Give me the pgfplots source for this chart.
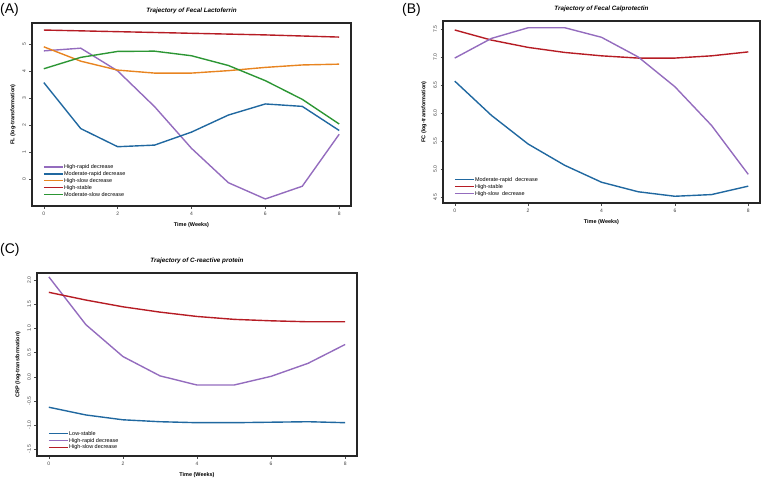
\documentclass[border=0pt]{standalone}
\usepackage{fontspec}
\setmainfont{Liberation Sans}
\usepackage{pgfplots}
\pgfplotsset{compat=1.18}

\definecolor{cpurple}{RGB}{148,108,190}
\definecolor{cblue}{RGB}{32,104,160}
\definecolor{corange}{RGB}{232,132,32}
\definecolor{cred}{RGB}{182,28,36}
\definecolor{cgreen}{RGB}{44,150,52}

\pgfplotsset{
  rstyle/.style={
    scale only axis,
    anchor=north west,
    axis line style={line width=1.2pt, black!85},
    tick align=outside,
    xtick pos=bottom, ytick pos=left,
    major tick length=2.5bp,
    tick style={black!70, line width=0.4pt},
    xmin=-0.32, xmax=8.32,
    xtick={0,2,4,6,8},
    no marks,
    ticklabel style={font=\fontsize{5}{6}\selectfont, text=black!75},
    yticklabel style={rotate=90, anchor=south},
    /pgf/number format/assume math mode=true,
    xlabel={Time (Weeks)},
    label style={font=\fontsize{5.5}{6.5}\selectfont\bfseries},
    title style={font=\fontsize{6.3}{7}\selectfont\bfseries\itshape},
    legend style={draw=none, fill=none, anchor=south west,
      font=\fontsize{5.5}{6.5}\selectfont, row sep=0.2pt,
      nodes={inner sep=0.6pt}},
    legend cell align=left,
    legend image code/.code={\draw[##1] (0bp,0.5bp) -- (19bp,0.5bp);},
  },
  rl/.style={line width=1.4pt},
}

\begin{document}
\begin{tikzpicture}
\useasboundingbox (0,0) rectangle (764bp,-487bp);

% (A)
\node[anchor=north west, font=\fontsize{14}{15}\selectfont, inner sep=0] at (0bp,-3bp) {(A)};
\begin{axis}[rstyle,
  at={(32bp,-23bp)}, width=319bp, height=183bp,
  ymin=-0.98, ymax=5.78, ytick={0,1,2,3,4,5},
  title={Trajectory of Fecal Lactoferrin},
  ylabel={FL (log-transformation)},
  legend style={at={(axis description cs:0.025,0.03)}},
]
\addplot[cpurple, line width=1.4pt] coordinates {(0,4.75) (1,4.85) (2,4.01) (3,2.69) (4,1.15) (5,-0.12) (6,-0.72) (7,-0.25) (8,1.67)};
\addplot[cblue, line width=1.4pt] coordinates {(0,3.58) (1,1.88) (2,1.21) (3,1.27) (4,1.75) (5,2.38) (6,2.79) (7,2.70) (8,1.81)};
\addplot[corange, line width=1.4pt] coordinates {(0,4.90) (1,4.37) (2,4.04) (3,3.93) (4,3.93) (5,4.02) (6,4.14) (7,4.23) (8,4.26)};
\addplot[cred, line width=1.4pt] coordinates {(0,5.52) (1,5.49) (2,5.46) (3,5.43) (4,5.40) (5,5.37) (6,5.34) (7,5.30) (8,5.26)};
\addplot[cgreen, line width=1.4pt] coordinates {(0,4.09) (1,4.51) (2,4.73) (3,4.74) (4,4.57) (5,4.21) (6,3.65) (7,2.96) (8,2.05)};
\legend{High-rapid decrease, Moderate-rapid decrease, High-slow decrease, High-stable, Moderate-slow decrease}
\end{axis}

% (B)
\node[anchor=north west, font=\fontsize{14}{15}\selectfont, inner sep=0] at (402bp,-3bp) {(B)};
\begin{axis}[rstyle,
  at={(443bp,-21bp)}, width=317bp, height=182bp,
  ymin=4.40, ymax=7.64, ytick={4.5,5.0,5.5,6.0,6.5,7.0,7.5},
  yticklabel style={/pgf/number format/.cd, fixed, fixed zerofill, precision=1},
  title={Trajectory of Fecal Calprotectin},
  ylabel={FC (log-transformation)},
  legend style={at={(axis description cs:0.025,0.02)}},
]
\addplot[cblue, line width=1.4pt] coordinates {(0,6.57) (1,5.96) (2,5.45) (3,5.07) (4,4.77) (5,4.60) (6,4.52) (7,4.55) (8,4.70)};
\addplot[cred, line width=1.4pt] coordinates {(0,7.48) (1,7.30) (2,7.17) (3,7.08) (4,7.02) (5,6.98) (6,6.98) (7,7.02) (8,7.09)};
\addplot[cpurple, line width=1.4pt] coordinates {(0,6.98) (1,7.33) (2,7.52) (3,7.52) (4,7.35) (5,7.00) (6,6.47) (7,5.78) (8,4.91)};
\legend{Moderate-rapid\ \ decrease, High-stable, High-slow\ \ decrease}
\end{axis}

% (C)
\node[anchor=north west, font=\fontsize{14}{15}\selectfont, inner sep=0] at (0bp,-243bp) {(C)};
\begin{axis}[rstyle,
  at={(37bp,-273bp)}, width=320bp, height=183bp,
  ymin=-1.64, ymax=2.15, ytick={-1.5,-1.0,-0.5,0.0,0.5,1.0,1.5,2.0},
  yticklabel style={/pgf/number format/.cd, fixed, fixed zerofill, precision=1},
  title={Trajectory of C-reactive protein},
  ylabel={CRP (log-transformation)},
  legend style={at={(axis description cs:0.025,0.015)}},
]
\addplot[cblue, line width=1.4pt] coordinates {(0,-0.63) (1,-0.79) (2,-0.89) (3,-0.93) (4,-0.95) (5,-0.95) (6,-0.94) (7,-0.93) (8,-0.95)};
\addplot[cpurple, line width=1.4pt] coordinates {(0,2.07) (1,1.08) (2,0.42) (3,0.02) (4,-0.17) (5,-0.17) (6,0.01) (7,0.28) (8,0.67)};
\addplot[cred, line width=1.4pt] coordinates {(0,1.75) (1,1.59) (2,1.45) (3,1.34) (4,1.25) (5,1.19) (6,1.16) (7,1.14) (8,1.14)};
\legend{Low-stable, High-rapid decrease, High-slow decrease}
\end{axis}
\end{tikzpicture}
\end{document}
